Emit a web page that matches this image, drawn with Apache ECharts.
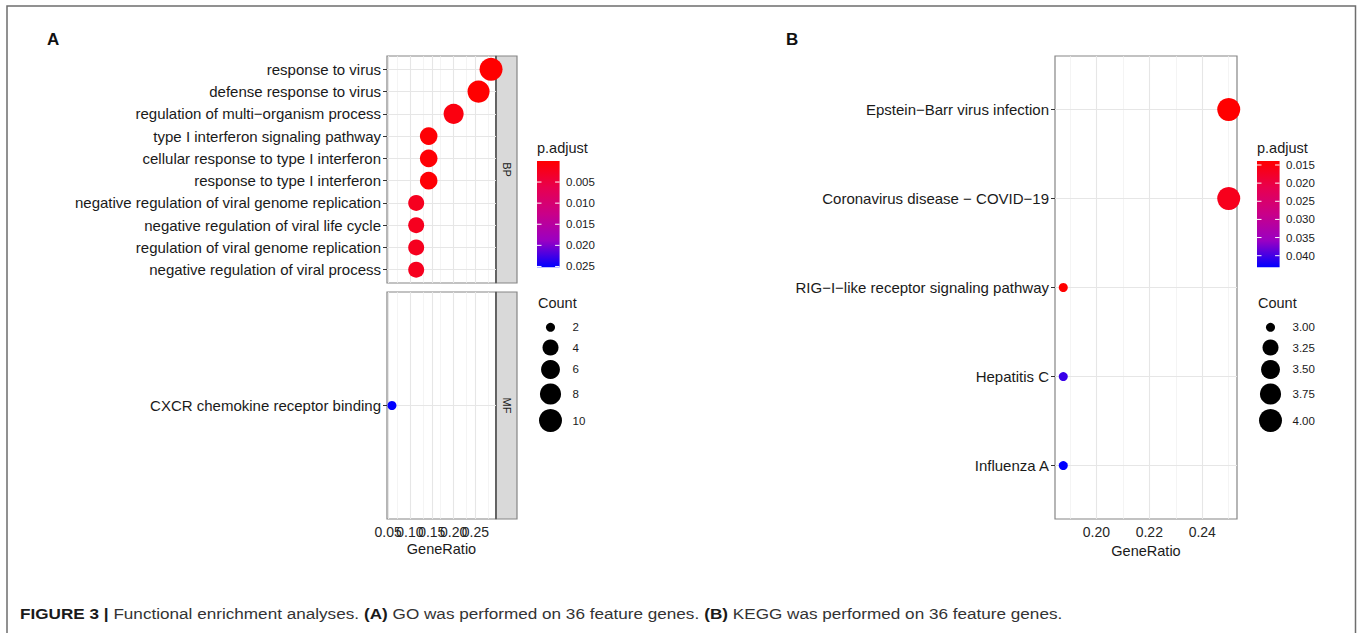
<!DOCTYPE html>
<html><head><meta charset="utf-8">
<script src="https://cdn.jsdelivr.net/npm/echarts@6/dist/echarts.min.js"></script>
<style>html,body{margin:0;padding:0;background:#fff}#c{width:1362px;height:633px}</style>
</head><body><div id="c"></div>
<script>
// ---------------- DATA ----------------
const bpTerms = ['response to virus', 'defense response to virus', 'regulation of multi\u2212organism process',
  'type I interferon signaling pathway', 'cellular response to type I interferon', 'response to type I interferon',
  'negative regulation of viral genome replication', 'negative regulation of viral life cycle',
  'regulation of viral genome replication', 'negative regulation of viral process'];
const bpGeneRatio = [0.2857, 0.2571, 0.2000, 0.1429, 0.1429, 0.1429, 0.1143, 0.1143, 0.1143, 0.1143];
const bpCount = [10, 9, 7, 5, 5, 5, 4, 4, 4, 4];
const bpPadjust = [0.000016, 0.00002, 0.0012, 0.0004, 0.0004, 0.0004, 0.0025, 0.0025, 0.0025, 0.0025];

const mfTerms = ['CXCR chemokine receptor binding'];
const mfGeneRatio = [0.0588];
const mfCount = [2];
const mfPadjust = [0.0252];

const keggTerms = ['Epstein\u2212Barr virus infection', 'Coronavirus disease \u2212 COVID\u221219',
  'RIG\u2212I\u2212like receptor signaling pathway', 'Hepatitis C', 'Influenza A'];
const keggGeneRatio = [0.25, 0.25, 0.1875, 0.1875, 0.1875];
const keggCount = [4, 4, 3, 3, 3];
const keggPadjust = [0.0139, 0.0165, 0.0139, 0.0405, 0.0432];

const goXTicks = [0.05, 0.10, 0.15, 0.20, 0.25];
const keggXTicks = [0.20, 0.22, 0.24];
const goPadjTicks = [0.005, 0.010, 0.015, 0.020, 0.025];
const keggPadjTicks = [0.015, 0.020, 0.025, 0.030, 0.035, 0.040];
const goCountBreaks = [2, 4, 6, 8, 10];
const keggCountBreaks = [3.00, 3.25, 3.50, 3.75, 4.00];

const captionBold1 = 'FIGURE 3 |';
const captionText1 = ' Functional enrichment analyses. ';
const captionBold2 = '(A)';
const captionText2 = ' GO was performed on 36 feature genes. ';
const captionBold3 = '(B)';
const captionText3 = ' KEGG was performed on 36 feature genes.';

// ---------------- STYLE / LAYOUT ----------------
const FONT = '"Liberation Sans", Arial, Helvetica, sans-serif';
const GRAD = ['#FF0000', '#E8004F', '#C90089', '#9A00C3', '#0000FF'];
const BORDER = '#858585';
const L = {
  bp:   {left: 387, top: 56, width: 109, height: 227},
  mf:   {left: 387, top: 292, width: 109, height: 227},
  kegg: {left: 1055, top: 56, width: 182, height: 463},
  stripW: 21
};

function rng(vals){ return [Math.min(...vals), Math.max(...vals)]; }
function padRange(vals){ const r = rng(vals), d = (r[1]-r[0])*0.05; return [r[0]-d, r[1]+d]; }
function minors(majors, range){
  const step = majors[1]-majors[0], out = [];
  for (let v = majors[0]-step/2; v <= range[1]+1e-9; v += step){
    const r = Math.round(v*1e6)/1e6;
    if (r >= range[0] && majors.indexOf(r) < 0) out.push(r);
  }
  return out;
}
function sizeFn(cr){ return function(c){ const t = (c-cr[0])/(cr[1]-cr[0]); return 9 + 14*Math.sqrt(Math.max(0, Math.min(1, t))); }; }

const goXRange = padRange(bpGeneRatio.concat(mfGeneRatio));
const keggXRange = padRange(keggGeneRatio);
const goCR = rng(bpCount.concat(mfCount));
const keggCR = rng(keggCount);
const goPR = rng(bpPadjust.concat(mfPadjust));
const keggPR = rng(keggPadjust);
const goSize = sizeFn(goCR), keggSize = sizeFn(keggCR);
// GO tick labels overlap each other (as in the original); split them over two axes so none is dropped
const goXTicksEven = goXTicks.filter((_, i) => i % 2 === 0);
const goXTicksOdd = goXTicks.filter((_, i) => i % 2 === 1);

function toData(ratio, count, padj){ return ratio.map((r, i) => [r, i, count[i], padj[i]]); }

function xAxisCfg(gi, range, tickVals, labelVals, name){
  return {type: 'value', gridIndex: gi, min: range[0], max: range[1],
    axisLine: {show: false}, splitLine: {show: false}, minorSplitLine: {show: false},
    axisTick: {show: tickVals.length > 0, length: 4, lineStyle: {color: '#333', width: 1}, customValues: tickVals.length ? tickVals : undefined},
    axisLabel: {show: labelVals.length > 0, customValues: labelVals.length ? labelVals : undefined,
      formatter: v => Number(v).toFixed(2), color: '#262626',
      fontSize: 14, margin: 6, fontFamily: FONT, showMinLabel: true, showMaxLabel: true, hideOverlap: false},
    name: name, nameLocation: 'middle', nameGap: 22,
    nameTextStyle: {color: '#1a1a1a', fontSize: 14.5, fontFamily: FONT, verticalAlign: 'top'}};
}
function yAxisCfg(gi, terms, show){
  const idx = terms.map((_, i) => i);
  return {type: 'value', gridIndex: gi, inverse: true, min: -0.6, max: terms.length-1+0.6, show: show !== false,
    axisLine: {show: false}, splitLine: {show: false},
    axisTick: {show: true, length: 4, lineStyle: {color: '#333', width: 1}, customValues: idx},
    axisLabel: {customValues: idx, formatter: v => terms[Math.round(v)] || '', color: '#1a1a1a',
      fontSize: 15, margin: 6, fontFamily: FONT, showMinLabel: true, showMaxLabel: true, hideOverlap: false}};
}
function gridSeries(i, xMaj, xMin, nTerms){
  const maj = {color: '#e6e6e6', width: 1.1, type: 'solid'};
  const mnr = {color: '#efefef', width: 0.7, type: 'solid'};
  const d = [];
  xMin.forEach(v => d.push({xAxis: v, lineStyle: mnr}));
  xMaj.forEach(v => d.push({xAxis: v, lineStyle: maj}));
  for (let k = 0; k < nTerms; k++) d.push({yAxis: k, lineStyle: maj});
  return {type: 'scatter', xAxisIndex: i, yAxisIndex: i, data: [], silent: true, z: 1,
    markLine: {silent: true, symbol: ['none', 'none'], animation: false, label: {show: false}, z: 1,
      emphasis: {disabled: true}, data: d}};
}
function scatterSeries(i, data, sf){
  return {type: 'scatter', xAxisIndex: i, yAxisIndex: i, data: data, z: 3, clip: true, silent: true,
    symbol: 'circle', symbolSize: v => sf(v[2]), itemStyle: {opacity: 1}};
}

// ---------------- GRAPHICS (frame, strips, legends, caption) ----------------
const G = [];
G.push({type: 'polyline', shape: {points: [[7, 633], [7, 6], [1355.5, 6], [1355.5, 633]]},
  style: {stroke: '#6e6e6e', lineWidth: 1.5, fill: null}, silent: true});
G.push({type: 'text', style: {text: 'A', x: 47, y: 39, fontSize: 17, fontWeight: 'bold', fontFamily: FONT, fill: '#111', verticalAlign: 'middle'}});
G.push({type: 'text', style: {text: 'B', x: 786, y: 39, fontSize: 17, fontWeight: 'bold', fontFamily: FONT, fill: '#111', verticalAlign: 'middle'}});

function strip(box, label){
  const x = box.left + box.width;
  G.push({type: 'rect', shape: {x: x, y: box.top, width: L.stripW, height: box.height},
    style: {fill: '#d9d9d9', stroke: BORDER, lineWidth: 1.2}, silent: true});
  G.push({type: 'line', shape: {x1: x, y1: box.top, x2: x, y2: box.top + box.height},
    style: {stroke: '#555', lineWidth: 1.6}, silent: true});
  G.push({type: 'text', x: x + L.stripW/2, y: box.top + box.height/2, rotation: -Math.PI/2,
    style: {text: label, x: 0, y: 0, align: 'center', verticalAlign: 'middle', fontSize: 11, fontFamily: FONT, fill: '#1a1a1a'}});
}
strip(L.bp, 'BP');
strip(L.mf, 'MF');

function legend(x0, pr, pTicks, pFmt, cr, cBreaks, cFmt, sf){
  const barTop = 161, barH = 106.3, barW = 22.6;
  G.push({type: 'text', style: {text: 'p.adjust', x: x0, y: 148, fontSize: 14.5, fontFamily: FONT, fill: '#1a1a1a', verticalAlign: 'middle'}});
  G.push({type: 'rect', shape: {x: x0, y: barTop, width: barW, height: barH}, silent: true,
    style: {fill: new echarts.graphic.LinearGradient(0, 0, 0, 1, GRAD.map((c, i) => ({offset: i/(GRAD.length-1), color: c})))}});
  pTicks.forEach(v => {
    const y = barTop + (v - pr[0])/(pr[1]-pr[0])*barH;
    G.push({type: 'line', shape: {x1: x0, y1: y, x2: x0 + 4.5, y2: y}, style: {stroke: '#fff', lineWidth: 1}, silent: true});
    G.push({type: 'line', shape: {x1: x0 + barW - 4.5, y1: y, x2: x0 + barW, y2: y}, style: {stroke: '#fff', lineWidth: 1}, silent: true});
    G.push({type: 'text', style: {text: pFmt(v), x: x0 + barW + 6.5, y: y, fontSize: 11.5, fontFamily: FONT, fill: '#1a1a1a', verticalAlign: 'middle'}});
  });
  G.push({type: 'text', style: {text: 'Count', x: x0 + 1, y: 303, fontSize: 14.5, fontFamily: FONT, fill: '#1a1a1a', verticalAlign: 'middle'}});
  const ds = cBreaks.map(sf);
  const hs = ds.map(d => Math.max(20, d + 4.5));
  let y = 327.3;
  cBreaks.forEach((b, i) => {
    if (i > 0) y += (hs[i-1] + hs[i]) / 2;
    G.push({type: 'circle', shape: {cx: x0 + 13.5, cy: y, r: ds[i]/2}, style: {fill: '#000'}, silent: true});
    G.push({type: 'text', style: {text: cFmt(b), x: x0 + 35.5, y: y, fontSize: 11.5, fontFamily: FONT, fill: '#1a1a1a', verticalAlign: 'middle'}});
  });
}
legend(537, goPR, goPadjTicks, v => v.toFixed(3), goCR, goCountBreaks, v => String(v), goSize);
legend(1257, keggPR, keggPadjTicks, v => v.toFixed(3), keggCR, keggCountBreaks, v => v.toFixed(2), keggSize);

// caption, horizontally fitted to the reference width
(function(){
  const fs = 15;
  const ctx = document.createElement('canvas').getContext('2d');
  const parts = [[captionBold1, 1], [captionText1, 0], [captionBold2, 1], [captionText2, 0], [captionBold3, 1], [captionText3, 0]];
  let w = 0;
  parts.forEach(p => { ctx.font = (p[1] ? 'bold ' : '') + fs + 'px ' + FONT; w += ctx.measureText(p[0]).width; });
  const sx = 1043 / w;
  const txt = parts.map(p => p[1] ? '{b|' + p[0] + '}' : '{n|' + p[0] + '}').join('');
  G.push({type: 'text', x: 20, y: 613, scaleX: sx, scaleY: 1,
    style: {text: txt, x: 0, y: 0, verticalAlign: 'middle', fontSize: fs, fontFamily: FONT, fill: '#333',
      rich: {b: {fontWeight: 'bold', fontSize: fs, fontFamily: FONT, fill: '#1a1a1a'},
             n: {fontSize: fs, fontFamily: FONT, fill: '#333'}}}});
})();

// ---------------- CHART ----------------
const chart = echarts.init(document.getElementById('c'), null, {renderer: 'svg'});
const gridCfg = (b, show) => ({left: b.left, top: b.top, width: b.width, height: b.height, show: show !== false,
  backgroundColor: show === false ? 'transparent' : '#fff', borderColor: BORDER, borderWidth: 1.2, containLabel: false});

chart.setOption({
  animation: false,
  backgroundColor: '#fff',
  textStyle: {fontFamily: FONT},
  grid: [gridCfg(L.bp), gridCfg(L.mf), gridCfg(L.kegg), gridCfg(L.mf, false)],
  xAxis: [
    xAxisCfg(0, goXRange, [], [], ''),
    xAxisCfg(1, goXRange, goXTicks, goXTicksEven, 'GeneRatio'),
    xAxisCfg(2, keggXRange, keggXTicks, keggXTicks, 'GeneRatio'),
    xAxisCfg(3, goXRange, [], goXTicksOdd, '')
  ],
  yAxis: [yAxisCfg(0, bpTerms), yAxisCfg(1, mfTerms), yAxisCfg(2, keggTerms), yAxisCfg(3, mfTerms, false)],
  visualMap: [
    {type: 'continuous', show: false, seriesIndex: [0, 1], dimension: 3, min: goPR[0], max: goPR[1], inRange: {color: GRAD}},
    {type: 'continuous', show: false, seriesIndex: [2], dimension: 3, min: keggPR[0], max: keggPR[1], inRange: {color: GRAD}}
  ],
  series: [
    scatterSeries(0, toData(bpGeneRatio, bpCount, bpPadjust), goSize),
    scatterSeries(1, toData(mfGeneRatio, mfCount, mfPadjust), goSize),
    scatterSeries(2, toData(keggGeneRatio, keggCount, keggPadjust), keggSize),
    gridSeries(0, goXTicks, minors(goXTicks, goXRange), bpTerms.length),
    gridSeries(1, goXTicks, minors(goXTicks, goXRange), mfTerms.length),
    gridSeries(2, keggXTicks, minors(keggXTicks, keggXRange), keggTerms.length)
  ],
  graphic: G
});
</script></body></html>
